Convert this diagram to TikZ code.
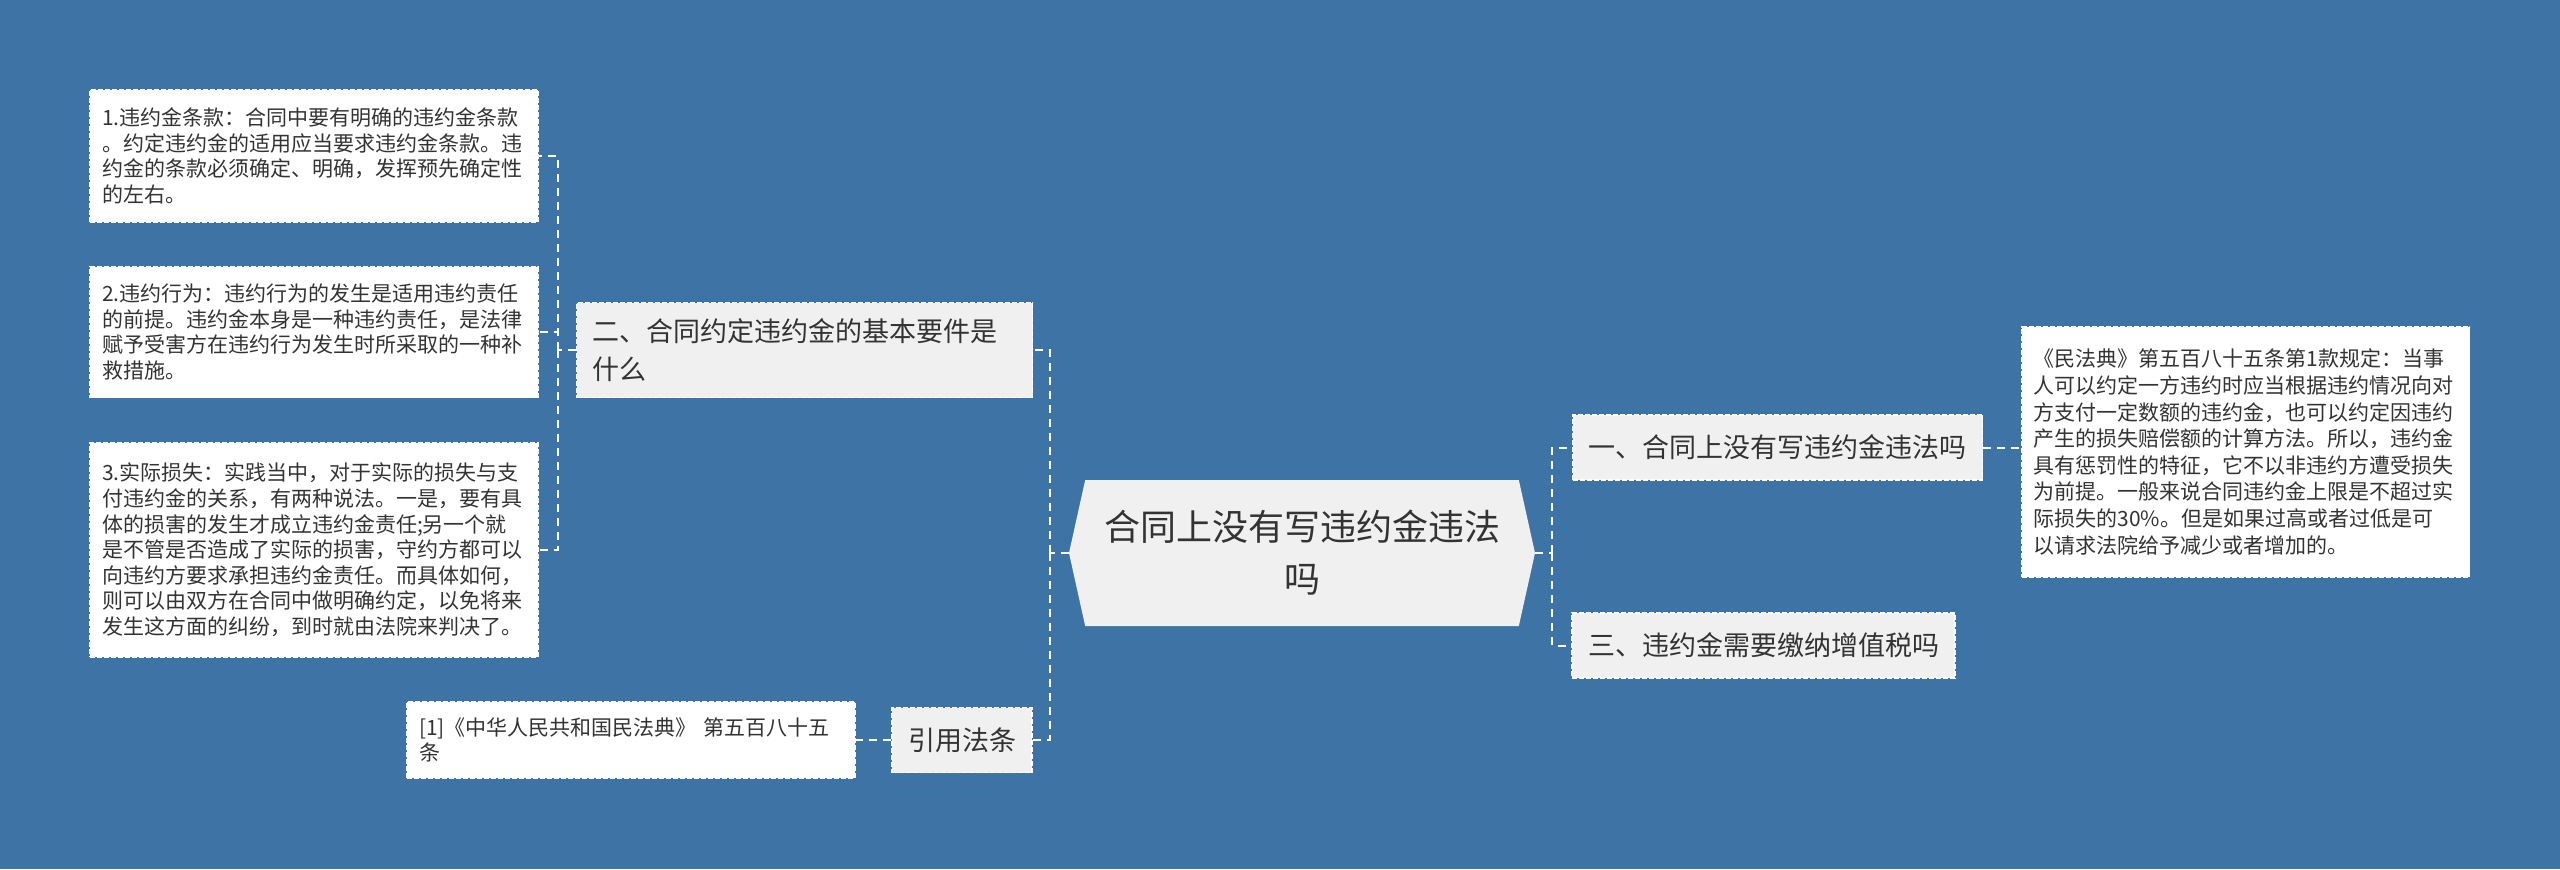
\documentclass[tikz,border=0pt]{standalone}
\usepackage{fontspec}
\setmainfont{Noto Sans CJK SC}
\usepackage{tikz}
\usetikzlibrary{shapes.symbols}
\definecolor{bgblue}{HTML}{3E73A5}
\definecolor{boxgray}{HTML}{F0F0F0}
\definecolor{ink}{HTML}{333333}

\begin{document}
\begin{tikzpicture}[x=0.5pt,y=-0.5pt,
  leaf/.style={draw=white,line width=0.8pt,dash pattern=on 2.5pt off 1pt,fill=white,text=ink,text width=212pt,align=left,inner xsep=6pt,font=\fontsize{10.5}{12.8}\selectfont},
  topic/.style={draw=white,line width=0.8pt,dash pattern=on 2.5pt off 1pt,fill=boxgray,text=ink,align=left,inner xsep=8pt,minimum height=32.5pt,font=\fontsize{13.5}{19}\selectfont},
  hub/.style={shape=signal,signal to=west and east,signal pointer angle=155,fill=boxgray,text=ink,align=center,minimum width=233pt,minimum height=73pt,font=\fontsize{18}{26}\selectfont},
  link/.style={white,line width=1pt,dash pattern=on 4pt off 3pt}]
 \useasboundingbox (0,0) rectangle (2560,869);
 \fill[bgblue] (0,0) rectangle (2560,869);
 % centre and first level
 \node[hub] (ctr) at (1302,553) {合同上没有写违约金违法\\吗};
 \node[topic,text width=212pt,minimum height=47.5pt] (er) at (804.5,350) {二、合同约定违约金的基本要件是\\什么};
 \node[topic] (yin) at (962,740) {引用法条};
 \node[topic] (yi) at (1777.5,447.5) {一、合同上没有写违约金违法吗};
 \node[topic] (san) at (1763.5,645.5) {三、违约金需要缴纳增值税吗};
 % leaves
 \node[leaf,minimum height=66pt] (leaf1) at (314,156) {1.违约金条款：合同中要有明确的违约金条款\\。约定违约金的适用应当要求违约金条款。违\\约金的条款必须确定、明确，发挥预先确定性\\的左右。};
 \node[leaf,minimum height=65.5pt] (leaf2) at (314,332) {2.违约行为：违约行为的发生是适用违约责任\\的前提。违约金本身是一种违约责任，是法律\\赋予受害方在违约行为发生时所采取的一种补\\救措施。};
 \node[leaf,minimum height=107pt] (leaf3) at (314,550) {3.实际损失：实践当中，对于实际的损失与支\\付违约金的关系，有两种说法。一是，要有具\\体的损害的发生才成立违约金责任;另一个就\\是不管是否造成了实际的损害，守约方都可以\\向违约方要求承担违约金责任。而具体如何，\\则可以由双方在合同中做明确约定，以免将来\\发生这方面的纠纷，到时就由法院来判决了。};
 \node[leaf,minimum height=38pt] (leaf4) at (631,740) {[1]《中华人民共和国民法典》 第五百八十五\\条};
 \node[leaf,minimum height=125pt,font=\fontsize{10.5}{13.3}\selectfont] (rleaf) at (2245.5,452) {《民法典》第五百八十五条第1款规定：当事\\人可以约定一方违约时应当根据违约情况向对\\方支付一定数额的违约金，也可以约定因违约\\产生的损失赔偿额的计算方法。所以，违约金\\具有惩罚性的特征，它不以非违约方遭受损失\\为前提。一般来说合同违约金上限是不超过实\\际损失的30\%。但是如果过高或者过低是可\\以请求法院给予减少或者增加的。};
 % connectors
 \coordinate (jk) at (558,350);
 \coordinate (jl) at (1050,553);
 \coordinate (jr) at (1552,553);
 \draw[link] (er.west) -- (jk);
 \foreach \n in {leaf1,leaf2,leaf3} \draw[link] (jk) |- (\n.east);
 \draw[link] (ctr.west) -- (jl);
 \foreach \n in {er,yin} \draw[link] (jl) |- (\n.east);
 \draw[link] (ctr.east) -- (jr);
 \foreach \n in {yi,san} \draw[link] (jr) |- (\n.west);
 \draw[link] (yi.east) -- (yi.east -| rleaf.west);
 \draw[link] (yin.west) -- (leaf4.east);
\end{tikzpicture}
\end{document}
